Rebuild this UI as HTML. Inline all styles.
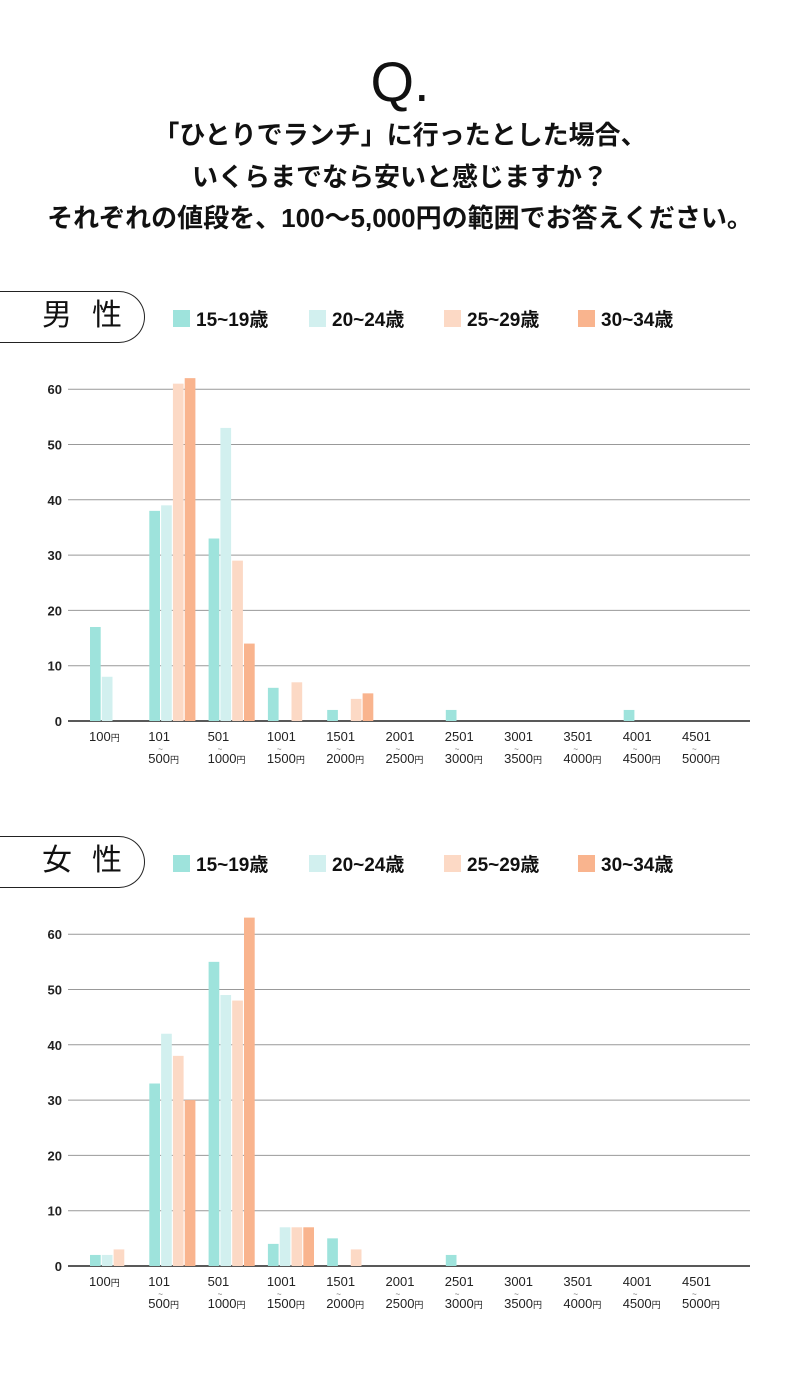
<!DOCTYPE html>
<html><head><meta charset="utf-8">
<style>
body{margin:0;width:800px;height:1380px;background:#fff;font-family:"Liberation Sans","Noto Sans CJK JP",sans-serif;color:#111;position:relative;overflow:hidden}
.q{position:absolute;left:0;width:800px;top:52px;text-align:center;font-size:56px;line-height:60px;font-weight:400}
.t{position:absolute;left:0;width:800px;text-align:center;font-size:26px;font-weight:bold;line-height:32px;white-space:nowrap}
.pill{position:absolute;left:-2px;width:147px;height:52px;border:1.5px solid #222;border-left:none;border-radius:0 26px 26px 0;box-sizing:border-box}
.pill span{position:absolute;left:44px;top:6px;font-size:30px;line-height:36px;letter-spacing:20px;white-space:nowrap}
.leg{position:absolute;font-size:19px;font-weight:bold;display:flex;align-items:center;white-space:nowrap}
.leg i{display:inline-block;width:17px;height:17px;margin-right:6px}
</style></head><body>
<div class="q">Q.</div>
<div class="t" style="top:119px">「ひとりでランチ」に行ったとした場合、</div>
<div class="t" style="top:161px">いくらまでなら安いと感じますか？</div>
<div class="t" style="top:202px">それぞれの値段を、100～5,000円の範囲でお答えください。</div>
<div id="charts"></div>
<script>
const categories=["100円","101\n500円","501\n1000円","1001\n1500円","1501\n2000円","2001\n2500円","2501\n3000円","3001\n3500円","3501\n4000円","4001\n4500円","4501\n5000円"];
const seriesNames=["15~19歳","20~24歳","25~29歳","30~34歳"];
const colors=["#9ee3dc","#d2f0ef","#fcd9c5","#f9b48e"];
const yTicks=[0,10,20,30,40,50,60];
const male15=[17,38,33,6,2,0,2,0,0,2,0];
const male20=[8,39,53,0,0,0,0,0,0,0,0];
const male25=[0,61,29,7,4,0,0,0,0,0,0];
const male30=[0,62,14,0,5,0,0,0,0,0,0];
const female15=[2,33,55,4,5,0,2,0,0,0,0];
const female20=[2,42,49,7,0,0,0,0,0,0,0];
const female25=[3,38,48,7,3,0,0,0,0,0,0];
const female30=[0,30,63,7,0,0,0,0,0,0,0];
const NS="http://www.w3.org/2000/svg";
function mk(tag,attrs,parent){const e=document.createElementNS(NS,tag);for(const k in attrs)e.setAttribute(k,attrs[k]);parent.appendChild(e);return e;}
function chart(label,key,top,series){
  const root=document.getElementById('charts');
  const pill=document.createElement('div');pill.className='pill';pill.style.top=(top)+'px';
  
  
  pill.innerHTML='<span>'+label+'</span>';root.appendChild(pill);
  const lx=[173,309,444,578];
  seriesNames.forEach((n,i)=>{const l=document.createElement('div');l.className='leg';l.style.left=lx[i]+'px';l.style.top=(top+14)+'px';
    
    
    l.innerHTML='<i style="background:'+colors[i]+'"></i>'+n;root.appendChild(l);});
  const svg=mk('svg',{width:800,height:480,style:'position:absolute;left:0;top:'+(top+40)+'px'},root);
  
  
  const base=390; const unit=5.53;
  const y=v=>base-v*unit;
  const x=i=>90+i*59.3;
  yTicks.forEach(t=>{
    const ln=mk('line',{x1:68,x2:750,y1:y(t),y2:y(t),stroke:t===0?'#222':'#999','stroke-width':t===0?1.5:1},svg);
    
    
    const tx=mk('text',{x:62,y:y(t)+5,'text-anchor':'end','font-size':13,'font-weight':'bold',fill:'#222'},svg);tx.textContent=t;
    
    
  });
  series.forEach((s,j)=>{s.forEach((v,i)=>{if(v<=0)return;
    const r=mk('rect',{x:x(i)+j*11.8,y:y(v),width:10.7,height:v*unit,fill:colors[j]},svg);
    
    });});
  categories.forEach((c,i)=>{const parts=c.split('\n');
    const g=mk('text',{x:x(i)-1,y:base+20,'font-size':13,fill:'#222'},svg);
    
    
    if(parts.length===1){g.innerHTML=parts[0].replace('円','<tspan font-size="9">円</tspan>');}
    else{g.textContent=parts[0];
      const w=mk('text',{x:x(i)+9,y:base+31,'font-size':8,fill:'#666'},svg);w.textContent='~';
      
      
      const g2=mk('text',{x:x(i)-1,y:base+42,'font-size':13,fill:'#222'},svg);
      g2.innerHTML=parts[1].replace('円','<tspan font-size="9">円</tspan>');
      
      }
  });
}
chart('男性','male',291,[male15,male20,male25,male30]);
chart('女性','female',836,[female15,female20,female25,female30]);
</script>
</body></html>
